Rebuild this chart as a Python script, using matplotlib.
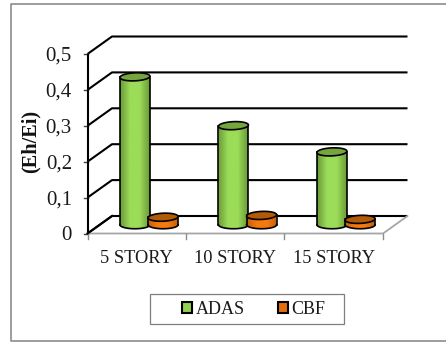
import numpy as np
import matplotlib
matplotlib.use("Agg")
import matplotlib.pyplot as plt
from matplotlib.colors import LinearSegmentedColormap
from matplotlib.lines import Line2D
from matplotlib.patches import Patch, PathPatch, Rectangle
from matplotlib.path import Path

# Chart data
categories = ["5 STORY", "10 STORY", "15 STORY"]
adas_values = [0.412, 0.276, 0.203]
cbf_values = [0.021, 0.026, 0.015]
y_ticks = [0, 0.1, 0.2, 0.3, 0.4, 0.5]
y_tick_labels = ["0", "0,1", "0,2", "0,3", "0,4", "0,5"]

W, H = 446, 342
plt.rcParams["font.family"] = ["Liberation Serif", "DejaVu Serif"]
fig = plt.figure(figsize=(W / 100, H / 100), dpi=100, facecolor="white")

# Front plane of the 3D box, placed in pixels
left, right, bottom, top = 87.5, 383.0, 233.5, 54.0
ax = fig.add_axes([left / W, 1 - bottom / H, (right - left) / W, (bottom - top) / H])
ax.set_xlim(0, 3)
ax.set_ylim(0, 0.5)
ax.axis("off")

px_x = 3 / (right - left)
px_y = 0.5 / (bottom - top)
depth_x = 24.5 * px_x
depth_y = 17.5 * px_y

# Outer chart frame: open on the right-hand side
frame_x = [446 / W, 11 / W, 11 / W, 446 / W]
frame_y = [1 - 3.5 / H, 1 - 3.5 / H, 1 - 341 / H, 1 - 341 / H]
fig.add_artist(Line2D(frame_x, frame_y, transform=fig.transFigure, color="#8c8c8c", lw=1.2))

wall = dict(color="black", lw=1.5, clip_on=False, zorder=1, solid_capstyle="butt")
for t in y_ticks:
    ax.plot([0, depth_x, 3 + depth_x], [t, t + depth_y, t + depth_y], **wall)
    ax.plot([-4 * px_x, 0], [t, t], color="#404040", lw=1.0, clip_on=False, zorder=1)
ax.plot([0, 0], [0, 0.5], **wall)

# Floor edges and category ticks
floor = dict(color="#a6a6a6", lw=1.3, clip_on=False, zorder=1)
ax.plot([0, 3, 3 + depth_x], [0, 0, depth_y], **floor)
for i in range(4):
    ax.plot([i, i], [0, -5 * px_y], color="#8c8c8c", lw=1.0, clip_on=False, zorder=1)
ax.plot([0, depth_x], [0, depth_y], color="black", lw=1.5, clip_on=False, zorder=2)

for t, lab in zip(y_ticks, y_tick_labels):
    ax.text(-15.5 * px_x, t - 2.5 * px_y, lab, ha="right", va="center", fontsize=15, color="#1a1a1a")
for i, lab in enumerate(categories):
    ax.text(i + 0.5, -25 * px_y, lab, ha="center", va="center", fontsize=13.2, color="#1a1a1a")
fig.text(31 / W, 1 - 141.5 / H, "(Eh/Ei)", rotation=90, ha="center", va="center",
         fontsize=14.6, fontweight="bold", color="#111111")

bar_width = 30 * px_x
half_h = 4.0 * px_y
tilt = 2.5


def cylinder(cx, value, side_edge, side_mid, top_color, z):
    """Draw one cylinder from the mid-depth floor line up to value."""
    base = depth_y / 2
    x0, x1 = cx - bar_width / 2, cx + bar_width / 2
    t = np.linspace(np.pi, 2 * np.pi, 40)
    low_x = cx + bar_width / 2 * np.cos(t)
    low_y = base + half_h * np.sin(t)
    verts = list(zip(low_x, low_y)) + [(x1, base + value), (x0, base + value), (x0, base)]
    clip = PathPatch(Path(verts), transform=ax.transData, fc="none", ec="none")
    ax.add_patch(clip)
    cmap = LinearSegmentedColormap.from_list("side", [side_edge, side_mid, side_mid, side_edge])
    grad = np.linspace(0, 1, 64)[None, :]
    im = ax.imshow(grad, extent=(x0, x1, base - half_h * 1.2, base + value + half_h),
                   cmap=cmap, aspect="auto", zorder=z, clip_on=True)
    im.set_clip_path(clip)
    ax.plot(low_x, low_y, color="black", lw=1.2, zorder=z + 0.1, clip_on=False)
    ax.plot([x0, x0], [base, base + value], color="black", lw=1.2, zorder=z + 0.1, clip_on=False)
    ax.plot([x1, x1], [base, base + value], color="black", lw=1.2, zorder=z + 0.1, clip_on=False)
    a = np.linspace(0, 2 * np.pi, 80)
    ex = bar_width / 2 * np.cos(a)
    ey = half_h * np.sin(a) + (ex / px_x) * np.tan(np.radians(tilt)) * px_y
    ax.fill(cx + ex, base + value + ey, fc=top_color, ec="black", lw=1.2, zorder=z + 0.2, clip_on=False)


for i in range(3):
    cx = i + 0.5 + depth_x / 2
    cylinder(cx - 0.143, adas_values[i], "#6c9a38", "#9bdc58", "#76a540", 3 + i)
    cylinder(cx + 0.143, cbf_values[i], "#c85f08", "#f57a10", "#b25a08", 3.5 + i)

ax.set_xlim(0, 3)
ax.set_ylim(0, 0.5)

# Legend box drawn separately so its padding can be set on each side
fig.add_artist(Rectangle((149.5 / W, 1 - 323.5 / H), 194 / W, 30 / H, transform=fig.transFigure,
                         fc="white", ec="#7f7f7f", lw=0.9))
handles = [Patch(fc="#92d050", ec="black", lw=1.5), Patch(fc="#e46c0a", ec="black", lw=1.5)]
leg = fig.legend(handles, ["ADAS", "CBF"], loc="center left", ncol=2,
                 bbox_to_anchor=(182 / W, 1 - 309.5 / H), fontsize=13, frameon=False,
                 handlelength=0.55, handleheight=0.55, handletextpad=0.2, columnspacing=1.85,
                 borderpad=0, borderaxespad=0, labelcolor="#1a1a1a")

fig.savefig("out.png", dpi=100)
